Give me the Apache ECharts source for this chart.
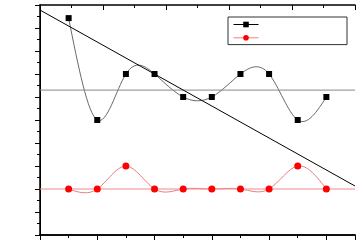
<!DOCTYPE html>
<html>
<head>
<meta charset="utf-8">
<script src="https://cdn.jsdelivr.net/npm/echarts@6/dist/echarts.min.js"></script>
<style>html,body{margin:0;padding:0;background:#fff}#c{width:357px;height:240px}</style>
</head>
<body>
<div id="c"></div>
<script>
const xValues = [1, 2, 3, 4, 5, 6, 7, 8, 9, 10];
const blackValues = [9.43, 5, 7, 7, 6, 6, 7, 7, 5, 6];
const redValues = [2, 2, 3, 2, 2, 2, 2, 2, 3, 2];
const trendX = [0, 11];
const trendY = [9.78, 2.13];
const grayLevel = 6.3;
const redLevel = 2.0;
const xRange = [0, 11];
const topRange = [0, 10];
const yRange = [0, 10];

const pairs = (xs, ys) => xs.map((x, i) => [x, ys[i]]);
const levelLine = v => xRange.map(x => [x, v]);

// natural cubic spline through pixel points, emitted as cubic bezier path
function splinePath(pts) {
  const n = pts.length;
  const h = [], d = [];
  for (let i = 0; i < n - 1; i++) {
    h.push(pts[i + 1][0] - pts[i][0]);
    d.push((pts[i + 1][1] - pts[i][1]) / h[i]);
  }
  const M = new Array(n).fill(0);
  if (n > 2) {
    const a = [], b = [], c = [], r = [];
    for (let i = 1; i < n - 1; i++) {
      a.push(h[i - 1]); b.push(2 * (h[i - 1] + h[i])); c.push(h[i]);
      r.push(6 * (d[i] - d[i - 1]));
    }
    const m = b.length;
    for (let i = 1; i < m; i++) {
      const w = a[i] / b[i - 1];
      b[i] -= w * c[i - 1]; r[i] -= w * r[i - 1];
    }
    const sol = new Array(m);
    sol[m - 1] = r[m - 1] / b[m - 1];
    for (let i = m - 2; i >= 0; i--) sol[i] = (r[i] - c[i] * sol[i + 1]) / b[i];
    for (let i = 0; i < m; i++) M[i + 1] = sol[i];
  }
  let p = 'M' + pts[0][0] + ' ' + pts[0][1];
  for (let i = 0; i < n - 1; i++) {
    const s0 = d[i] - h[i] * (2 * M[i] + M[i + 1]) / 6;
    const s1 = d[i] + h[i] * (M[i] + 2 * M[i + 1]) / 6;
    const k = h[i] / 3;
    p += ' C' + (pts[i][0] + k) + ' ' + (pts[i][1] + s0 * k) + ' ' +
         (pts[i + 1][0] - k) + ' ' + (pts[i + 1][1] - s1 * k) + ' ' +
         pts[i + 1][0] + ' ' + pts[i + 1][1];
  }
  return p;
}

function splineSeries(ys, color) {
  return {
    type: 'custom', silent: true, clip: true,
    data: pairs(xValues, ys),
    renderItem: (params, api) => {
      if (params.dataIndex !== 0) return null;
      const pts = xValues.map((x, i) => api.coord([x, ys[i]]));
      return { type: 'path', shape: { pathData: splinePath(pts) },
               style: { fill: null, stroke: color, lineWidth: 0.8 } };
    }
  };
}

const axisLine = { show: true, lineStyle: { color: '#000', width: 1.5 } };
const chart = echarts.init(document.getElementById('c'), null, { renderer: 'canvas' });
chart.setOption({
  animation: false,
  grid: { left: 40, right: 2, top: 5, bottom: 5, containLabel: false },
  legend: {
    data: [
      { name: 'S1', lineStyle: { color: '#000', width: 1, opacity: 1 } },
      { name: 'S2', lineStyle: { color: '#f08080', width: 1, opacity: 1 } }
    ],
    orient: 'vertical',
    left: 228, top: 17,
    itemWidth: 25, itemHeight: 7, itemGap: 7,
    padding: [4, 88, 4, 5],
    borderColor: '#333', borderWidth: 1,
    formatter: () => '',
    textStyle: { fontSize: 1 }
  },
  xAxis: [
    { type: 'value', min: xRange[0], max: xRange[1], interval: 1, position: 'bottom',
      axisLine: axisLine, axisTick: { length: 3, lineStyle: { color: '#000' } },
      axisLabel: { show: false }, splitLine: { show: false } },
    { type: 'value', min: xRange[0], max: xRange[1], interval: 2, position: 'bottom',
      axisLine: axisLine, axisTick: { length: 5, lineStyle: { color: '#000' } },
      axisLabel: { show: false }, splitLine: { show: false } },
    { type: 'value', min: topRange[0], max: topRange[1], interval: 2, position: 'top',
      axisLine: axisLine, axisTick: { inside: true, length: 5, lineStyle: { color: '#000' } },
      minorTick: { show: true, splitNumber: 2, length: 3, lineStyle: { color: '#000' } },
      axisLabel: { show: false }, splitLine: { show: false } }
  ],
  yAxis: [
    { type: 'value', min: yRange[0], max: yRange[1], interval: 1, position: 'left',
      axisLine: axisLine, axisTick: { show: true, length: 5, lineStyle: { color: '#000' } },
      minorTick: { show: true, splitNumber: 2, length: 3, lineStyle: { color: '#000' } },
      axisLabel: { show: false }, splitLine: { show: false } },
    { type: 'value', min: yRange[0], max: yRange[1], interval: 2, position: 'right',
      axisLine: { show: true, lineStyle: { color: '#000', width: 1 } },
      axisTick: { show: true, inside: true, length: 5, lineStyle: { color: '#000' } },
      minorTick: { show: true, splitNumber: 2, length: 3, lineStyle: { color: '#000' } },
      axisLabel: { show: false }, splitLine: { show: false } }
  ],
  series: [
    { type: 'line', name: 'gray', data: levelLine(grayLevel), symbol: 'none', silent: true,
      lineStyle: { color: '#888', width: 1 } },
    { type: 'line', name: 'redlevel', data: levelLine(redLevel), symbol: 'none', silent: true,
      lineStyle: { color: '#f08a8a', width: 1 } },
    { type: 'line', name: 'trend', data: pairs(trendX, trendY), symbol: 'none', silent: true,
      lineStyle: { color: '#000', width: 1 } },
    splineSeries(blackValues, '#444'),
    splineSeries(redValues, '#e06060'),
    { type: 'line', name: 'S1', data: pairs(xValues, blackValues),
      symbol: 'rect', symbolSize: 6, itemStyle: { color: '#000' },
      lineStyle: { opacity: 0 } },
    { type: 'line', name: 'S2', data: pairs(xValues, redValues),
      symbol: 'circle', symbolSize: 7, itemStyle: { color: '#ff0000' },
      lineStyle: { opacity: 0 } }
  ]
});
</script>
</body>
</html>
